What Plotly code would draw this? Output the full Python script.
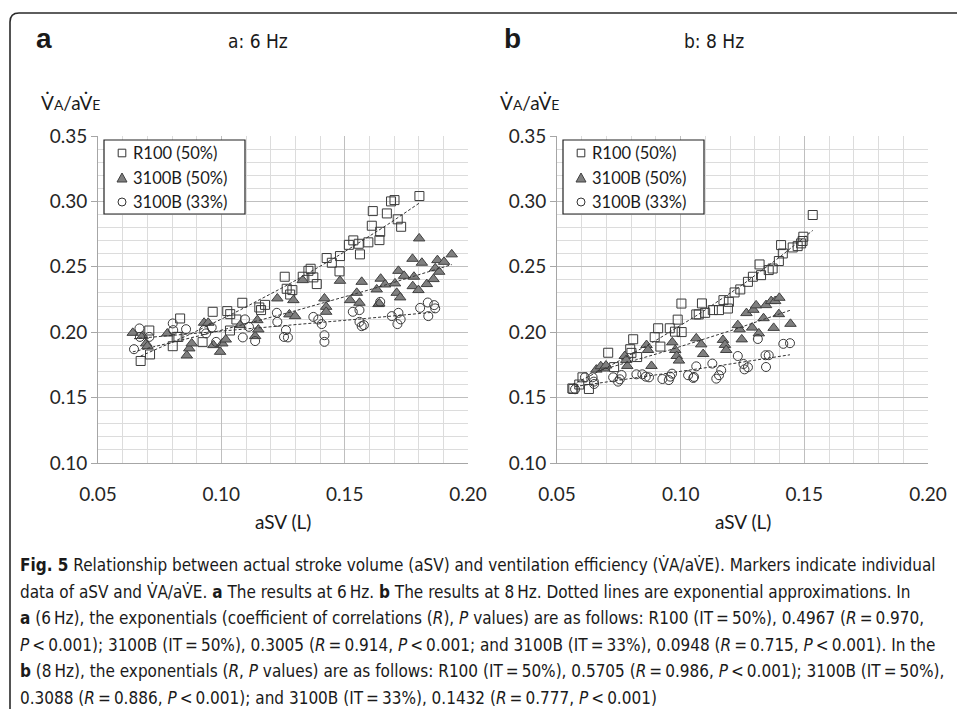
import numpy as np
import plotly.graph_objects as go

W, H = 957, 709

# ---------------- data: panel a (6 Hz) ----------------
a_r100_x = [0.0673,0.0711,0.0708,0.0803,0.0819,0.0826,0.0833,0.0924,0.0965,0.1024,0.1036,0.1061,0.1035,0.1085,0.1154,
            0.1161,0.1177,0.1257,0.1265,0.1288,0.1279,0.1330,0.1353,0.1362,0.1373,0.1387,0.1427,0.1448,0.1481,0.1479,
            0.1517,0.1535,0.1557,0.1562,0.1596,0.1610,0.1614,0.1641,0.1644,0.1671,0.1688,0.1702,0.1715,0.1729,0.1803]
a_r100_y = [0.1780,0.1830,0.2013,0.1893,0.1964,0.1964,0.2105,0.1924,0.2156,0.2161,0.2138,0.2097,0.2013,0.2225,0.2189,
            0.2169,0.2209,0.2424,0.2332,0.2322,0.2288,0.2424,0.2469,0.2485,0.2419,0.2368,0.2567,0.2531,0.2582,0.2465,
            0.2668,0.2702,0.2676,0.2595,0.2687,0.2814,0.2926,0.2704,0.2768,0.2908,0.3000,0.3010,0.2863,0.2806,0.3041]

a_b50_x = [0.0641,0.0681,0.0695,0.0700,0.0781,0.0860,0.0870,0.0880,0.0930,0.0947,0.0968,0.0995,0.1004,0.1018,0.1076,
           0.1137,0.1146,0.1150,0.1227,0.1276,0.1292,0.1299,0.1330,0.1418,0.1425,0.1425,0.1481,0.1522,0.1549,0.1560,
           0.1569,0.1630,0.1637,0.1640,0.1646,0.1664,0.1704,0.1711,0.1718,0.1725,0.1741,0.1775,0.1776,0.1781,0.1799,
           0.1802,0.1813,0.1833,0.1860,0.1867,0.1876,0.1883,0.1903,0.1934]
a_b50_y = [0.1995,0.1972,0.1914,0.1893,0.1990,0.1822,0.1876,0.1914,0.2072,0.2072,0.1901,0.1850,0.1914,0.1944,0.2054,
           0.1970,0.2092,0.2021,0.2258,0.2136,0.2245,0.2123,0.2398,0.2258,0.2194,0.2156,0.2393,0.2245,0.2301,0.2225,
           0.2385,0.2327,0.2215,0.2220,0.2409,0.2365,0.2373,0.2301,0.2469,0.2266,0.2431,0.2561,0.2352,0.2424,0.2322,
           0.2717,0.2531,0.2368,0.2406,0.2488,0.2551,0.2462,0.2538,0.2595]

a_b33_x = [0.0668,0.0646,0.0670,0.0708,0.0803,0.0805,0.0857,0.0930,0.0938,0.0961,0.0979,0.1087,0.1096,0.1112,0.1137,
           0.1225,0.1227,0.1262,0.1254,0.1270,0.1373,0.1393,0.1407,0.1418,0.1418,0.1533,0.1560,0.1560,0.1569,0.1578,
           0.1644,0.1691,0.1718,0.1727,0.1714,0.1806,0.1837,0.1839,0.1863,0.1867]
a_b33_y = [0.2029,0.1870,0.1964,0.1964,0.2067,0.2016,0.2023,0.2016,0.1991,0.2036,0.1926,0.1960,0.2098,0.2041,0.1932,
           0.2148,0.2079,0.2016,0.1964,0.1960,0.2117,0.2097,0.2062,0.1977,0.1926,0.2156,0.2169,0.2079,0.2046,0.2054,
           0.2232,0.2123,0.2148,0.2098,0.2062,0.2186,0.2227,0.2123,0.2207,0.2182]

# ---------------- data: panel b (8 Hz) ----------------
b_r100_x = [0.0562,0.0566,0.0590,0.0603,0.0629,0.0707,0.0731,0.0808,0.0796,0.0801,0.0824,0.0895,0.0909,0.0918,0.0956,
            0.0988,0.0977,0.1004,0.1003,0.1063,0.1073,0.1086,0.1099,0.1130,0.1155,0.1173,0.1191,0.1195,0.1218,0.1241,
            0.1272,0.1292,0.1319,0.1325,0.1356,0.1372,0.1397,0.1406,0.1413,0.1453,0.1473,0.1487,0.1496,0.1493,0.1534]
b_r100_y = [0.1570,0.1566,0.1600,0.1655,0.1566,0.1843,0.1733,0.1946,0.1870,0.1842,0.1810,0.1962,0.2030,0.1890,0.2030,
            0.2096,0.2004,0.2001,0.2219,0.2136,0.2136,0.2220,0.2148,0.2169,0.2169,0.2245,0.2181,0.2232,0.2304,0.2327,
            0.2385,0.2424,0.2518,0.2436,0.2475,0.2487,0.2544,0.2666,0.2602,0.2648,0.2658,0.2679,0.2730,0.2697,0.2896]

b_b50_x = [0.0659,0.0677,0.0690,0.0698,0.0774,0.0780,0.0784,0.0862,0.0868,0.0882,0.0966,0.0978,0.0984,0.0993,0.1063,
           0.1083,0.1091,0.1171,0.1179,0.1184,0.1238,0.1231,0.1247,0.1266,0.1289,0.1294,0.1305,0.1316,0.1335,0.1345,
           0.1366,0.1382,0.1376,0.1397,0.1399,0.1444]
b_b50_y = [0.1714,0.1740,0.1722,0.1745,0.1818,0.1788,0.1742,0.1902,0.1864,0.1742,0.1923,0.1864,0.1818,0.1783,0.1953,
           0.1907,0.1833,0.1941,0.1903,0.1864,0.2022,0.2054,0.1945,0.2146,0.2035,0.2171,0.2205,0.1991,0.2107,0.2207,
           0.2238,0.2238,0.2033,0.2138,0.2263,0.2064]

b_b33_x = [0.0573,0.0613,0.0644,0.0649,0.0650,0.0727,0.0747,0.0754,0.0761,0.0821,0.0845,0.0859,0.0872,0.0926,0.0952,
           0.0958,0.0965,0.1030,0.1054,0.1051,0.1063,0.1128,0.1144,0.1155,0.1164,0.1231,0.1254,0.1258,0.1272,0.1312,
           0.1345,0.1343,0.1356,0.1415,0.1442]
b_b33_y = [0.1564,0.1655,0.1655,0.1622,0.1604,0.1655,0.1622,0.1640,0.1673,0.1678,0.1678,0.1660,0.1655,0.1642,0.1634,
           0.1660,0.1683,0.1671,0.1658,0.1650,0.1739,0.1760,0.1645,0.1671,0.1709,0.1818,0.1757,0.1716,0.1732,0.1948,
           0.1734,0.1824,0.1824,0.1911,0.1916]

series_names = ["R100 (50%)", "3100B (50%)", "3100B (33%)"]
panel_titles = ["a: 6 Hz", "b: 8 Hz"]
panel_letters = ["a", "b"]
x_ticks = [0.05, 0.10, 0.15, 0.20]
y_ticks = [0.10, 0.15, 0.20, 0.25, 0.30, 0.35]

T = "\u2009"  # thin space, as in the typeset caption
caption_lines = [
    "<b>Fig. 5</b> Relationship between actual stroke volume (aSV) and ventilation efficiency (V\u0307A/aV\u0307E). Markers indicate individual",
    f"data of aSV and V\u0307A/aV\u0307E. <b>a</b> The results at 6{T}Hz. <b>b</b> The results at 8{T}Hz. Dotted lines are exponential approximations. In",
    f"<b>a</b> (6{T}Hz), the exponentials (coefficient of correlations (<i>R</i>), <i>P</i> values) are as follows: R100 (IT{T}={T}50%), 0.4967 (<i>R</i>{T}={T}0.970,",
    f"<i>P</i>{T}&lt;{T}0.001); 3100B (IT{T}={T}50%), 0.3005 (<i>R</i>{T}={T}0.914, <i>P</i>{T}&lt;{T}0.001; and 3100B (IT{T}={T}33%), 0.0948 (<i>R</i>{T}={T}0.715, <i>P</i>{T}&lt;{T}0.001). In the",
    f"<b>b</b> (8{T}Hz), the exponentials (<i>R</i>, <i>P</i> values) are as follows: R100 (IT{T}={T}50%), 0.5705 (<i>R</i>{T}={T}0.986, <i>P</i>{T}&lt;{T}0.001); 3100B (IT{T}={T}50%),",
    f"0.3088 (<i>R</i>{T}={T}0.886, <i>P</i>{T}&lt;{T}0.001); and 3100B (IT{T}={T}33%), 0.1432 (<i>R</i>{T}={T}0.777, <i>P</i>{T}&lt;{T}0.001)",
]

# ---------------- styling ----------------
TICKFONT = "Lato, 'Open Sans', sans-serif"
NARROW = "'Liberation Sans Narrow', 'DejaVu Sans Condensed', sans-serif"
DARK = "#3a3a3a"
TRI_FILL = "#7f7f7f"

def px(x):
    return x / W

def py(y):
    return 1 - y / H

panels = [
    dict(data=[(a_r100_x, a_r100_y), (a_b50_x, a_b50_y), (a_b33_x, a_b33_y)], x0=98, x1=468),
    dict(data=[(b_r100_x, b_r100_y), (b_b50_x, b_b50_y), (b_b33_x, b_b33_y)], x0=557, x1=928),
]
plot_top, plot_bot = 136, 463

marker_styles = [
    dict(symbol="square-open", size=9, color=DARK, line=dict(width=1, color=DARK)),
    dict(symbol="triangle-up", size=10, color=TRI_FILL, line=dict(width=1, color="#404040")),
    dict(symbol="circle-open", size=9, color=DARK, line=dict(width=1, color=DARK)),
]

fig = go.Figure()
layout = dict(width=W, height=H, margin=dict(l=0, r=0, t=0, b=0, autoexpand=False),
              paper_bgcolor="white", plot_bgcolor="white", showlegend=False)

annotations = []
shapes = []

for i, p in enumerate(panels):
    xa = "x" if i == 0 else "x2"
    ya = "y" if i == 0 else "y2"
    for (xs, ys), ms, nm in zip(p["data"], marker_styles, series_names):
        fig.add_trace(go.Scatter(x=xs, y=ys, mode="markers", name=nm, marker=ms,
                                 xaxis=xa, yaxis=ya, hoverinfo="x+y"))
    # exponential trend lines (least squares on ln y, as Excel does)
    for (xs, ys) in p["data"]:
        xs_a = np.array(xs); ys_a = np.array(ys)
        b, ln_a = np.polyfit(xs_a, np.log(ys_a), 1)
        xx = np.linspace(xs_a.min(), xs_a.max(), 40)
        fig.add_trace(go.Scatter(x=xx, y=np.exp(ln_a) * np.exp(b * xx), mode="lines",
                                 line=dict(color="#333333", width=1, dash="3px,2px"),
                                 xaxis=xa, yaxis=ya, hoverinfo="skip"))

    axkey_x = "xaxis" if i == 0 else "xaxis2"
    axkey_y = "yaxis" if i == 0 else "yaxis2"
    layout[axkey_x] = dict(
        domain=[px(p["x0"]), px(p["x1"])], anchor=ya, range=[0.05, 0.20], automargin=False,
        tickvals=x_ticks, ticktext=[f"{v:.2f}" for v in x_ticks],
        showgrid=True, gridcolor="#bfbfbf", gridwidth=1,
        minor=dict(dtick=0.01, tick0=0.05, showgrid=True, gridcolor="#dcdcdc", gridwidth=1),
        showline=True, linecolor="#a6a6a6", linewidth=1, zeroline=False,
        ticks="", ticklabelstandoff=14,
        tickfont=dict(family=TICKFONT, size=19, color="#262626"),
    )
    layout[axkey_y] = dict(
        domain=[py(plot_bot), py(plot_top)], anchor=xa, range=[0.10, 0.35], automargin=False,
        tickvals=y_ticks, ticktext=[f"{v:.2f}" for v in y_ticks],
        showgrid=True, gridcolor="#bfbfbf", gridwidth=1,
        minor=dict(dtick=0.01, tick0=0.10, showgrid=True, gridcolor="#dcdcdc", gridwidth=1),
        showline=True, linecolor="#a6a6a6", linewidth=1, zeroline=False,
        ticks="outside", ticklen=6, tickcolor="#a6a6a6",
        tickfont=dict(family=TICKFONT, size=19, color="#262626"),
    )

    # panel letter, title, y label, x label
    letter_x = 34 if i == 0 else 502
    annotations.append(dict(x=px(letter_x), y=py(38), xref="paper", yref="paper", xanchor="left", yanchor="middle",
                            text=f"<b>{panel_letters[i]}</b>", showarrow=False,
                            font=dict(family="'Liberation Sans', Arial, sans-serif", size=28, color="#1a1a1a")))
    annotations.append(dict(x=px((258 if i == 0 else 714)), y=py(41), xref="paper", yref="paper",
                            xanchor="center", yanchor="middle", text=panel_titles[i], showarrow=False,
                            font=dict(family=NARROW, size=19, color="#1a1a1a")))
    annotations.append(dict(x=px(p["x0"] - 59), y=py(102), xref="paper", yref="paper",
                            xanchor="left", yanchor="middle",
                            text="V\u0307<span style='font-size:14px'>A</span>/aV\u0307<span style='font-size:14px'>E</span>",
                            showarrow=False, font=dict(family=TICKFONT, size=19, color="#1a1a1a")))
    annotations.append(dict(x=px((p["x0"] + p["x1"]) / 2), y=py(521), xref="paper", yref="paper",
                            xanchor="center", yanchor="middle", text="aSV (L)", showarrow=False,
                            font=dict(family=TICKFONT, size=19, color="#1a1a1a")))

    # legend box (drawn)
    lx0 = p["x0"] + 6
    lx1 = lx0 + 141
    shapes.append(dict(type="rect", xref="paper", yref="paper", x0=px(lx0), x1=px(lx1), y0=py(140 + 74), y1=py(140),
                       line=dict(color="#222222", width=1.2), fillcolor="white", layer="above"))
    rows = [153, 178, 202]
    mx = lx0 + 18
    shapes.append(dict(type="rect", xref="paper", yref="paper", x0=px(mx - 3.8), x1=px(mx + 3.8),
                       y0=py(rows[0] + 3.8), y1=py(rows[0] - 3.8), line=dict(color="#333", width=1), layer="above"))
    t = rows[1]
    shapes.append(dict(type="path", xref="paper", yref="paper",
                       path=f"M {px(mx-5)},{py(t+4)} L {px(mx+5)},{py(t+4)} L {px(mx)},{py(t-5)} Z",
                       line=dict(color="#404040", width=1), fillcolor=TRI_FILL, layer="above"))
    c = rows[2]
    shapes.append(dict(type="circle", xref="paper", yref="paper", x0=px(mx - 4), x1=px(mx + 4),
                       y0=py(c + 4), y1=py(c - 4), line=dict(color="#333", width=1), layer="above"))
    for r, nm in zip(rows, series_names):
        annotations.append(dict(x=px(lx0 + 27), y=py(r), xref="paper", yref="paper", xanchor="left", yanchor="middle",
                                text=nm, showarrow=False, font=dict(family=TICKFONT, size=16.5, color="#1a1a1a")))

# outer rounded frame
r_x, r_y = 9 / W, 9 / H
fx, fy = px(10), py(13)
shapes.append(dict(type="path", xref="paper", yref="paper",
                   path=f"M {fx},-0.02 L {fx},{fy - r_y} Q {fx},{fy} {fx + r_x},{fy} L 1.02,{fy}",
                   line=dict(color="#2a2a2a", width=1.6)))

# caption
for k, line in enumerate(caption_lines):
    annotations.append(dict(x=px(18), y=py(565 + 26.6 * k), xref="paper", yref="paper",
                            xanchor="left", yanchor="middle", text=line, showarrow=False,
                            font=dict(family=NARROW, size=17, color="#1a1a1a")))

layout["annotations"] = annotations
layout["shapes"] = shapes
fig.update_layout(**layout)
fig.write_html("out.html")
